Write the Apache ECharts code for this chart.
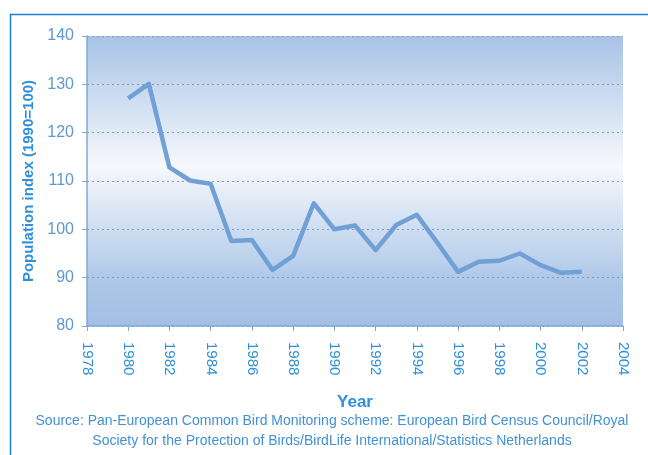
<!DOCTYPE html>
<html>
<head>
<meta charset="utf-8">
<script src="https://cdn.jsdelivr.net/npm/echarts@6/dist/echarts.min.js"></script>
<style>
html, body { margin: 0; padding: 0; background: #fff; }
#chart { width: 648px; height: 455px; }
</style>
</head>
<body>
<div id="chart"></div>
<script>
// population index, 1990 = 100
const years = [1980, 1981, 1982, 1983, 1984, 1985, 1986, 1987, 1988, 1989, 1990,
  1991, 1992, 1993, 1994, 1995, 1996, 1997, 1998, 1999, 2000, 2001, 2002]
const indexValues = [127.1, 130.1, 112.8, 110.1, 109.4, 97.6, 97.8, 91.6, 94.5, 105.4, 100.0,
  100.8, 95.7, 100.9, 103.0, 97.2, 91.2, 93.3, 93.5, 95.0, 92.6, 91.0, 91.2]
const sourceLines = [
  'Source: Pan-European Common Bird Monitoring scheme: European Bird Census Council/Royal',
  'Society for the Protection of Birds/BirdLife International/Statistics Netherlands'
]

const blue = '#2f8fd8'
const axisBlue = '#7fa9d6'

const myChart = echarts.init(document.getElementById('chart'))
const option = {
  animation: false,
  textStyle: { fontFamily: 'Liberation Sans, Arial, sans-serif' },
  grid: {
    left: 87,
    right: 25,
    top: 36,
    bottom: 129,
    show: true,
    borderWidth: 0,
    backgroundColor: {
      type: 'linear',
      x: 0, y: 0, x2: 0, y2: 1,
      colorStops: [
        { offset: 0, color: '#a8c3e6' },
        { offset: 0.45, color: '#f6f8fc' },
        { offset: 0.85, color: '#adc7e8' },
        { offset: 1, color: '#a3bfe4' }
      ]
    }
  },
  graphic: [
    {
      type: 'polyline',
      shape: { points: [[10.5, 460], [10.5, 14.5], [660, 14.5]] },
      style: { stroke: '#1a80d6', lineWidth: 1.5, fill: null }
    },
    {
      type: 'text',
      x: 332,
      y: 411,
      style: {
        text: sourceLines.join('\n'),
        fill: '#4391d4',
        font: '14px Liberation Sans, Arial, sans-serif',
        align: 'center',
        lineHeight: 20
      }
    }
  ],
  xAxis: {
    type: 'value',
    min: 1978,
    max: 2004,
    interval: 2,
    name: 'Year',
    nameLocation: 'middle',
    nameGap: 68,
    nameTextStyle: { color: blue, fontSize: 17, fontWeight: 'bold' },
    axisLine: { lineStyle: { color: axisBlue, width: 1.5 } },
    axisTick: { show: true, length: 5, lineStyle: { color: axisBlue } },
    axisLabel: {
      rotate: -90,
      color: blue,
      fontSize: 15,
      margin: 16,
      formatter: v => String(v)
    },
    splitLine: { show: false }
  },
  yAxis: {
    type: 'value',
    min: 80,
    max: 140,
    interval: 10,
    name: 'Population index (1990=100)',
    nameLocation: 'middle',
    nameGap: 49,
    nameTextStyle: { color: blue, fontSize: 15, fontWeight: 'bold' },
    axisLine: { show: true, lineStyle: { color: axisBlue, width: 1.5 } },
    axisTick: { show: true, length: 5, lineStyle: { color: axisBlue } },
    axisLabel: { color: '#5f98cf', fontSize: 16, margin: 13 },
    splitLine: {
      show: true,
      lineStyle: { color: '#7f9dc4', type: [2, 3], width: 1 }
    }
  },
  series: [
    {
      type: 'line',
      data: years.map((y, i) => [y, indexValues[i]]),
      symbol: 'none',
      lineStyle: { color: '#70a0d6', width: 4.5, join: 'round' }
    }
  ]
}
myChart.setOption(option)
</script>
</body>
</html>
